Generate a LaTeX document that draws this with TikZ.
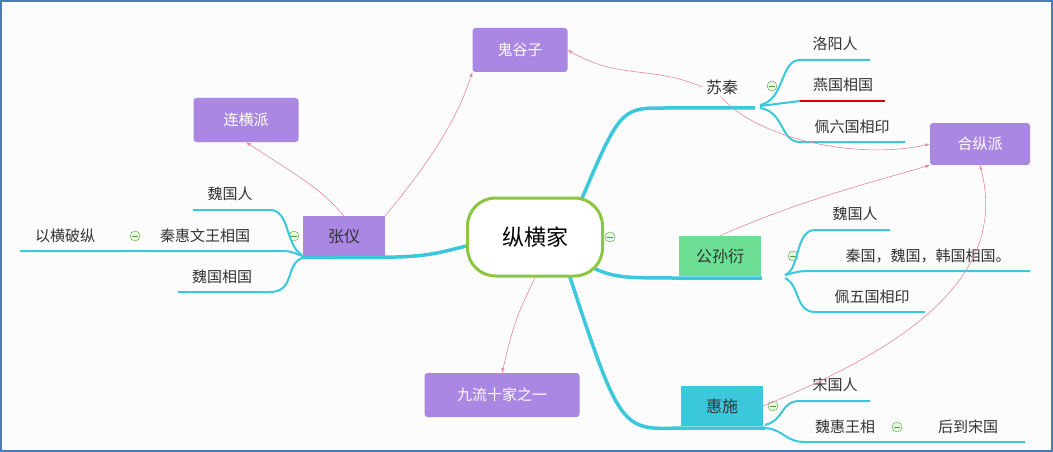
\documentclass[tikz,border=0pt]{standalone}
\usepackage{fontspec}
\setmainfont{Noto Sans CJK SC}
\usetikzlibrary{positioning}
\definecolor{branch}{HTML}{3CC8DC}
\definecolor{tagbox}{HTML}{A987E2}
\definecolor{linkpink}{HTML}{E8899B}
\definecolor{rootgreen}{HTML}{8CC63F}
\definecolor{minusgreen}{HTML}{5A9A3A}
\definecolor{framebl}{HTML}{4A7EBB}
\definecolor{gsgreen}{HTML}{6BDE93}
\tikzset{
	tagnode/.style={rectangle, rounded corners=3pt, fill=tagbox, text=white, font=\fontsize{15}{18}\selectfont, minimum height=44pt},
	topicnode/.style={rectangle, font=\fontsize{16}{19}\selectfont, text=black!80, minimum width=82pt, minimum height=40pt},
	leafnode/.style={font=\fontsize{15}{18}\selectfont, text=black!80},
	minusnode/.style={circle, draw=minusgreen, fill=green!10, inner sep=0pt, minimum size=10pt, path picture={\draw[minusgreen] ([xshift=-3pt]path picture bounding box.center) -- ([xshift=3pt]path picture bounding box.center);}},
	thick branch/.style={draw=branch, line width=3.5pt},
	thin branch/.style={draw=branch, line width=2pt},
	link/.style={draw=linkpink, -latex, semithick}
}
\begin{document}
\begin{tikzpicture}[x=1pt, y=-1pt]
		\useasboundingbox (0,0) rectangle (1053,452);
		\fill[black!1] (0,0) rectangle (1053,452);
		\draw[framebl, line width=1.5pt] (1,1) rectangle (1052,451);
		
		% branches
		\draw[thick branch] (575,215) .. controls (620,108) .. (665,108) -- (755,108);
		\draw[thick branch] (570,255) .. controls (610,278) .. (680,278) -- (762,278);
		\draw[thick branch] (565,262) .. controls (620,430) .. (680,428) -- (765,428);
		\draw[thick branch] (470,245) .. controls (420,258) .. (302,257);
		
		% center
		\node[rectangle, rounded corners=28pt, draw=rootgreen, line width=3pt, fill=white, minimum width=135pt, minimum height=78pt, font=\fontsize{22}{26}\selectfont] at (535,237) (root) {纵横家};
		\node[minusnode] at (610,237) (rootm) {};
		
		% su qin
		\node[leafnode, font=\fontsize{16}{19}\selectfont] at (722,87) (suqin) {苏秦};
		\node[minusnode] at (772,86) (suqinm) {};
		\draw[thin branch] (760,105) .. controls (785,100) and (780,60) .. (800,60) -- (870,60);
		\draw[thin branch] (760,106) .. controls (780,103) .. (800,101);
		\draw[red!85!black, line width=2pt] (800,101) -- (885,101);
		\draw[thin branch] (760,108) .. controls (785,112) and (780,142) .. (800,142) -- (905,142);
		\node[leafnode] at (835,44) (luoyang) {洛阳人};
		\node[leafnode] at (843,85) (yanguo) {燕国相国};
		\node[leafnode] at (852,127) (peiliu) {佩六国相印};
		
		% gongsun yan
		\node[topicnode, fill=gsgreen] at (720,256) (gongsun) {公孙衍};
		\node[minusnode] at (793,256) (gongsunm) {};
		\draw[thin branch] (785,275) .. controls (800,270) and (795,230) .. (815,230) -- (890,230);
		\draw[thin branch] (785,275) .. controls (800,271) .. (815,271) -- (1030,271);
		\draw[thin branch] (785,278) .. controls (800,285) and (795,312) .. (815,312) -- (925,312);
		\node[leafnode] at (855,214) (weiren1) {魏国人};
		\node[leafnode] at (928,256) (qinwei) {秦国，魏国，韩国相国。};
		\node[leafnode] at (872,297) (peiwu) {佩五国相印};
		
		% hui shi
		\node[topicnode, fill=branch] at (722,406) (huishi) {惠施};
		\node[minusnode] at (773,406) (huishim) {};
		\draw[thin branch] (765,425) .. controls (785,420) and (780,401) .. (800,401) -- (870,401);
		\draw[thin branch] (765,428) .. controls (785,430) and (785,442) .. (805,442) -- (1025,442);
		\node[leafnode] at (835,385) (songren) {宋国人};
		\node[leafnode] at (845,427) (weihui) {魏惠王相};
		\node[minusnode] at (897,427) (weihuim) {};
		\node[leafnode] at (968,427) (housong) {后到宋国};
		
		% zhang yi
		\node[topicnode, fill=tagbox] at (344,236) (zhangyi) {张仪};
		\node[minusnode] at (294,236) (zhangyim) {};
		\draw[thin branch] (302,255) .. controls (285,245) and (290,210) .. (270,210) -- (193,210);
		\draw[thin branch] (302,256) .. controls (290,251) .. (275,251) -- (20,251);
		\draw[thin branch] (302,258) .. controls (285,265) and (295,292) .. (270,292) -- (178,292);
		\node[leafnode] at (230,194) (weiren2) {魏国人};
		\node[leafnode] at (205,236) (qinhui) {秦惠文王相国};
		\node[minusnode] at (135,236) (qinhuim) {};
		\node[leafnode] at (65,236) (yiheng) {以横破纵};
		\node[leafnode] at (222,277) (weixiang) {魏国相国};
		
		% tags
		\node[tagnode, minimum width=95pt] at (520,50) (guigu) {鬼谷子};
		\node[tagnode, minimum width=100pt, minimum height=42pt] at (980,144) (hezong) {合纵派};
		\node[tagnode, minimum width=105pt] at (246,120) (lianheng) {连横派};
		\node[tagnode, minimum width=155pt] at (502,395) (jiuliu) {九流十家之一};
		
		% links
		\draw[link] (suqin.west) .. controls (650,65) and (620,80) .. (guigu.east);
		\draw[link] (suqin.south) .. controls (760,140) and (860,160) .. (hezong.west);
		\draw[link] (gongsun.north) .. controls (800,200) and (880,180) .. (hezong.south west);
		\draw[link] (huishi.east) .. controls (900,350) and (1010,280) .. (hezong.south);
		\draw[link] (root.south) .. controls (515,320) .. (jiuliu.north);
		\draw[link] (zhangyi.north) .. controls (320,190) .. (lianheng.south);
		\draw[link] (zhangyi.north east) .. controls (440,150) and (460,110) .. (guigu.south west);
	\end{tikzpicture}
\end{document}
